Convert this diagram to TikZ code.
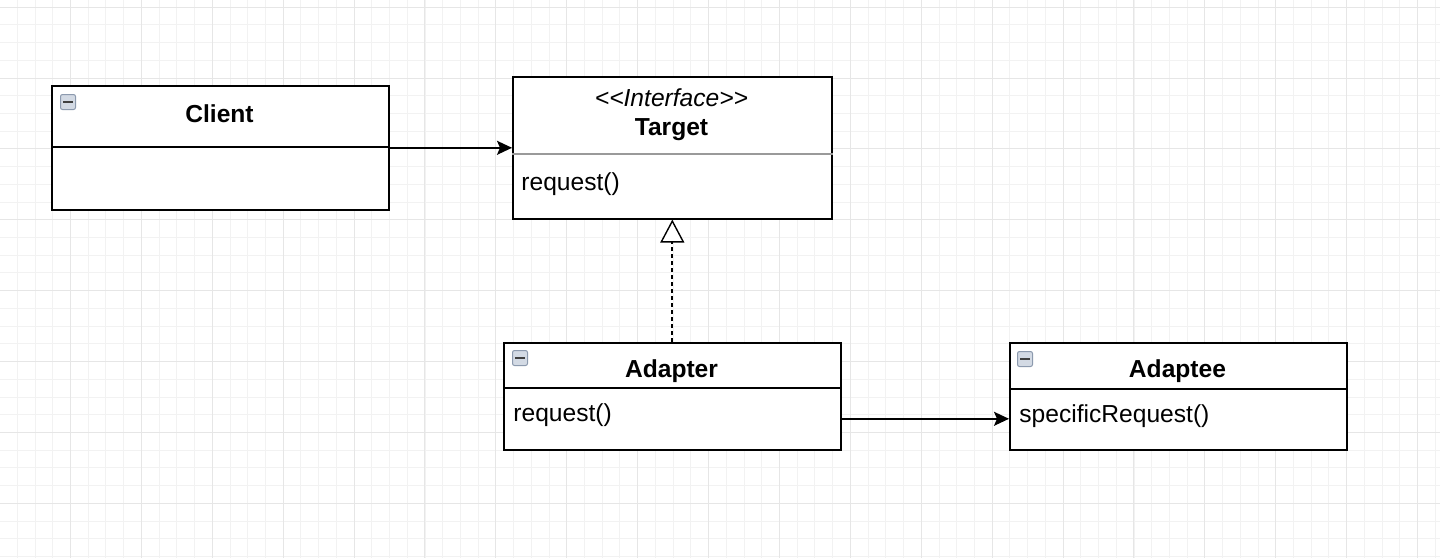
\documentclass[tikz,border=0pt]{standalone}
\usepackage{fontspec}
\setmainfont{Liberation Sans}
\usepackage{tikz}
\usetikzlibrary{arrows.meta}

\begin{document}
\begin{tikzpicture}[x=0.5pt,y=-0.5pt]
        \def\umlfont{\fontsize{12.3}{14}\selectfont}
        \definecolor{gridlight}{HTML}{F2F2F2}
        \definecolor{griddark}{HTML}{E6E6E6}
        \definecolor{iconfill}{HTML}{D3DAE4}
        \definecolor{iconline}{HTML}{8C9AAE}
        \definecolor{divgray}{HTML}{9A9A9A}

        \tikzset{
           minorline/.style={draw=gridlight, line width=0.5pt},
           majorline/.style={draw=griddark, line width=0.5pt},
           classbox/.style={draw=black, line width=0.8pt, fill=white, anchor=north west, inner sep=0pt},
           classname/.style={anchor=base, font=\umlfont\bfseries, inner sep=0pt},
           member/.style={anchor=base west, font=\umlfont, inner sep=0pt},
           collapse/.style={draw=iconline, fill=iconfill, rounded corners=1pt, minimum size=7.5pt,
              inner sep=0pt, anchor=north west, line width=0.5pt},
           assoc/.style={draw=black, line width=0.8pt, -{Stealth[length=7.5pt,width=7pt,inset=1.5pt]}},
           realize/.style={draw=black, line width=1pt, dash pattern=on 2pt off 1.5pt,
              -{Triangle[length=11.5pt,width=12pt,fill=white,line width=0.7pt]}}
        }

        \useasboundingbox (0,0) rectangle (1440,558);

        % Grid
        \foreach \i in {0,...,81} {
           \pgfmathsetmacro{\gx}{round(-0.9+17.725*\i)+0.5}
           \draw[minorline] (\gx,0) -- (\gx,558);
        }
        \foreach \i in {0,...,31} {
           \pgfmathsetmacro{\gy}{round(6.6+17.725*\i)+0.5}
           \draw[minorline] (0,\gy) -- (1440,\gy);
        }
        \foreach \i in {0,...,20} {
           \pgfmathsetmacro{\gx}{round(-0.9+70.9*\i)+0.5}
           \draw[majorline] (\gx,0) -- (\gx,558);
        }
        \foreach \i in {0,...,7} {
           \pgfmathsetmacro{\gy}{round(6.6+70.9*\i)+0.5}
           \draw[majorline] (0,\gy) -- (1440,\gy);
        }

        % Client
        \node[classbox, minimum width=168.5pt, minimum height=62pt] (client) at (51,85) {};
        \draw[line width=0.8pt] (client.west |- 0,147) -- (client.east |- 0,147);
        \node[classname] (clientname) at (219.5,122) {Client};
        \node[collapse] (clienticon) at (60,94) {};
        \draw[line width=0.8pt, draw=black!75] ([xshift=-2.4pt]clienticon.center) -- ([xshift=2.4pt]clienticon.center);

        % Target
        \node[classbox, minimum width=159.5pt, minimum height=71pt] (target) at (512,76) {};
        \draw[divgray, line width=0.6pt] (target.west |- 0,154) -- (target.east |- 0,154);
        \node[anchor=base, font=\umlfont\itshape, inner sep=0pt] (targetstereo) at (671.5,106) {<\kern0pt<Interface>\kern0pt>};
        \node[classname] (targetname) at (671.5,135) {Target};
        \node[member] (targetop) at (521,190) {request()};

        % Adapter
        \node[classbox, minimum width=168.5pt, minimum height=53.5pt] (adapter) at (503,342) {};
        \draw[line width=0.8pt] (adapter.west |- 0,388) -- (adapter.east |- 0,388);
        \node[classname] (adaptername) at (671.5,377.5) {Adapter};
        \node[member] (adapterop) at (513,421) {request()};
        \node[collapse] (adaptericon) at (512,350) {};
        \draw[line width=0.8pt, draw=black!75] ([xshift=-2.4pt]adaptericon.center) -- ([xshift=2.4pt]adaptericon.center);

        % Adaptee
        \node[classbox, minimum width=168.5pt, minimum height=53.5pt] (adaptee) at (1009,342) {};
        \draw[line width=0.8pt] (adaptee.west |- 0,389) -- (adaptee.east |- 0,389);
        \node[classname] (adapteename) at (1177.5,377.5) {Adaptee};
        \node[member] (adapteeop) at (1019,422) {specificRequest()};
        \node[collapse] (adapteeicon) at (1017,351) {};
        \draw[line width=0.8pt, draw=black!75] ([xshift=-2.4pt]adapteeicon.center) -- ([xshift=2.4pt]adapteeicon.center);

        % Lines
        \draw[assoc] (client.east) -- (target.west);
        \draw[realize] (adapter.north) -- (target.south);
        \draw[assoc] ([yshift=-11.25pt]adapter.east) -- ([yshift=-11.25pt]adaptee.west);
\end{tikzpicture}
\end{document}
